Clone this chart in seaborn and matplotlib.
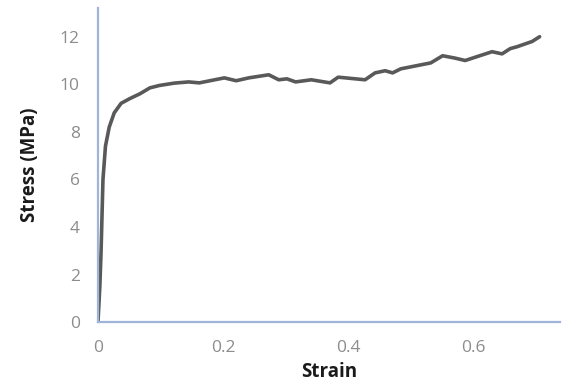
import pandas as pd
import matplotlib
matplotlib.use('Agg')
import matplotlib.pyplot as plt
import seaborn as sns

# stress-strain curve
strain = [0.0, 0.003, 0.005, 0.008, 0.012, 0.018, 0.026, 0.037, 0.051, 0.067, 0.083, 0.098,
          0.122, 0.145, 0.162, 0.202, 0.221, 0.241, 0.273, 0.289, 0.302, 0.316,
          0.341, 0.371, 0.384, 0.427, 0.443, 0.459, 0.471, 0.484, 0.532, 0.551,
          0.571, 0.587, 0.630, 0.646, 0.659, 0.670, 0.694, 0.706]
stress = [0.0, 1.5, 3.0, 6.0, 7.4, 8.2, 8.8, 9.2, 9.4, 9.6, 9.85, 9.95,
          10.05, 10.1, 10.06, 10.27, 10.15, 10.27, 10.4, 10.19, 10.23, 10.1,
          10.19, 10.06, 10.3, 10.19, 10.48, 10.57, 10.48, 10.65, 10.9, 11.2,
          11.1, 11.0, 11.37, 11.28, 11.5, 11.58, 11.8, 12.0]
xticks = [0, 0.2, 0.4, 0.6]
xticklabels = ['0', '0.2', '0.4', '0.6']
yticks = [0, 2, 4, 6, 8, 10, 12]

df = pd.DataFrame({'Strain': strain, 'Stress (MPa)': stress})

sns.set_style('white')
plt.rcParams['font.family'] = ['Open Sans', 'DejaVu Sans']

fig = plt.figure(figsize=(5.63, 3.9), dpi=100)
ax = fig.add_axes([0.174, 0.174, 0.82, 0.805])
sns.lineplot(data=df, x='Strain', y='Stress (MPa)', ax=ax, color='#595959', linewidth=2.6)

ax.set_xlim(0, 0.738)
ax.set_ylim(0, 13.2)
ax.set_xticks(xticks)
ax.set_xticklabels(xticklabels)
ax.set_yticks(yticks)
ax.tick_params(length=0, labelsize=12.5, labelcolor='#8c8c8c', pad=13)
for s in ['top', 'right']:
    ax.spines[s].set_visible(False)
for s in ['left', 'bottom']:
    ax.spines[s].set_color('#9fb4d8')
    ax.spines[s].set_linewidth(1.6)
ax.set_xlabel('Strain', fontsize=13.5, fontweight='bold', color='#1a1a1a', labelpad=4)
ax.set_ylabel('Stress (MPa)', fontsize=13.5, fontweight='bold', color='#1a1a1a', labelpad=14)

plt.savefig('out.png', dpi=100)
